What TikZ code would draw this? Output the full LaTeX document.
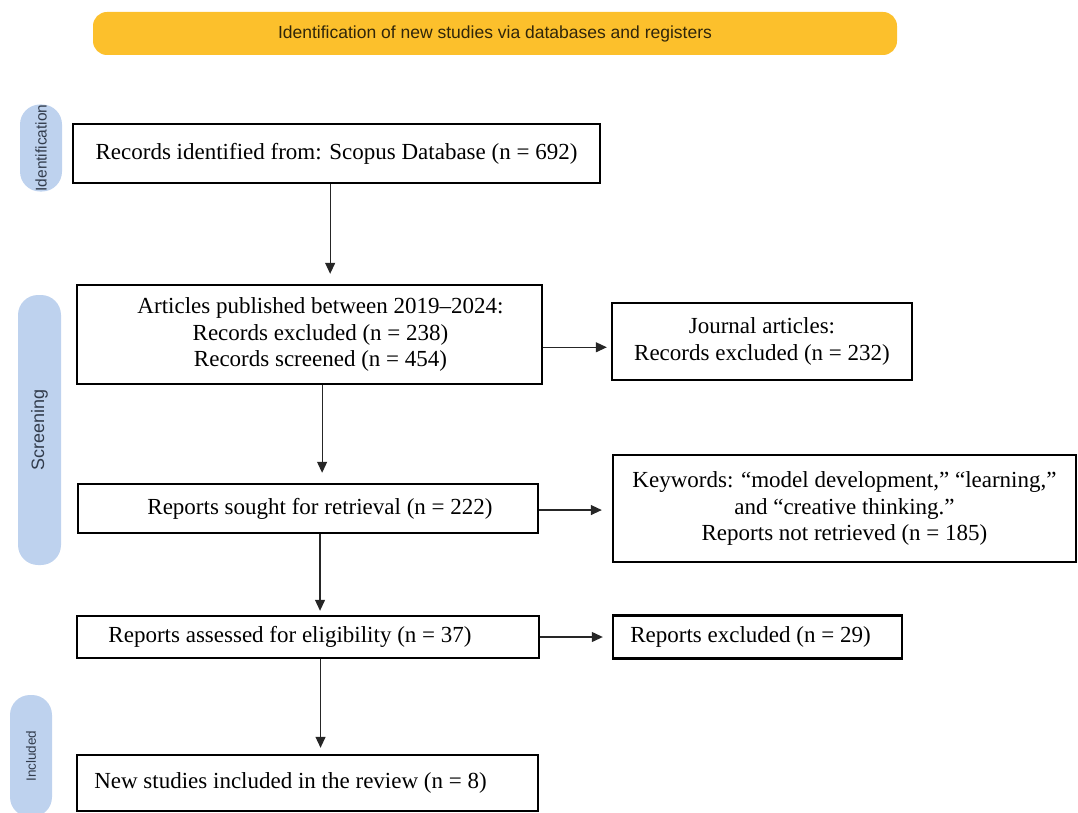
\documentclass[tikz,border=0pt]{standalone}
\usepackage{fontspec}
\setmainfont{Liberation Serif}
\setsansfont{Liberation Sans}
\usepackage{tikz}
\usetikzlibrary{calc,arrows.meta}
\definecolor{bannergold}{RGB}{252,192,44}
\definecolor{bannerink}{RGB}{48,38,10}
\definecolor{pillblue}{RGB}{190,210,238}
\definecolor{pillink}{RGB}{50,60,76}
\tikzset{
	recbox/.style 2 args = {draw=black, line width=2.4pt, inner sep=0pt,
		minimum width=#1, minimum height=#2, align=center,
		font=\fontsize{23}{26.5}\selectfont},
	stagepill/.style 2 args = {fill=pillblue, rounded corners=20pt, inner sep=0pt,
		minimum width=#1, minimum height=#2, text=pillink},
	flowarrow/.style = {-{Triangle[length=11pt,width=10pt]}, line width=1.2pt, draw=black!85}
}

\begin{document}
\begin{tikzpicture}[x=1pt,y=-1pt]
	\useasboundingbox (0,0) rectangle (1078,813);
	\node[fill=bannergold, rounded corners=14pt, minimum width=804pt, minimum height=43pt,
		text=bannerink, font=\sffamily\fontsize{17.5}{20}\selectfont] (banner) at (495,33.5)
		{Identification of new studies via databases and registers};
	\node[stagepill={42pt}{80pt}] (idpill) at (41,148)
		{\rotatebox{90}{\sffamily\fontsize{15.5}{18}\selectfont Identification}};
	\node[stagepill={43pt}{270pt}] (scrpill) at (39.5,430)
		{\rotatebox{90}{\sffamily\fontsize{18}{20}\selectfont Screening}};
	\node[stagepill={42pt}{122pt}] (incpill) at (31,756)
		{\rotatebox{90}{\sffamily\fontsize{13.5}{16}\selectfont Included}};

	\node[recbox={527pt}{59pt}] (found) at (336.5,153.5)
		{Records identified from: Scopus Database (n = 692)};
	\node[recbox={465pt}{99pt}] (period) at (309.5,334.5)
		{\hspace*{22pt}Articles published between 2019–2024:\\ \hspace*{22pt}Records excluded (n = 238)\\ \hspace*{22pt}Records screened (n = 454)};
	\node[recbox={300pt}{77pt}] (journal) at (762,341.5)
		{Journal articles:\\ Records excluded (n = 232)};
	\node[recbox={460pt}{49pt}] (sought) at (308,508.5)
		{\hspace*{24pt}Reports sought for retrieval (n = 222)};
	\node[recbox={463pt}{107pt}] (keywords) at (844.5,508.5)
		{Keywords: “model development,” “learning,”\\ and “creative thinking.”\\ Reports not retrieved (n = 185)};
	\node[recbox={462pt}{42pt}] (assessed) at (308,637)
		{\hspace*{-36pt}Reports assessed for eligibility (n = 37)};
	\node[recbox={289pt}{43pt}] (excluded) at (757.5,637)
		{\hspace*{-14pt}Reports excluded (n = 29)};
	\node[recbox={461pt}{56pt}] (included) at (307.5,783)
		{\hspace*{-34pt}New studies included in the review (n = 8)};

	\draw[flowarrow, shorten >=10pt] ($(found.south west)!.488!(found.south east)$) coordinate (v1) -- (v1 |- period.north);
	\draw[flowarrow, shorten >=10pt] ($(period.south west)!.527!(period.south east)$) coordinate (v2) -- (v2 |- sought.north);
	\draw[flowarrow, shorten >=4pt] ($(sought.south west)!.526!(sought.south east)$) coordinate (v3) -- (v3 |- assessed.north);
	\draw[flowarrow, shorten >=6pt] ($(assessed.south west)!.527!(assessed.south east)$) coordinate (v4) -- (v4 |- included.north);
	\draw[flowarrow, shorten >=4pt] ($(period.north east)!.626!(period.south east)$) coordinate (h1) -- (h1 -| journal.west);
	\draw[flowarrow, shorten >=10pt] ($(sought.north east)!.53!(sought.south east)$) coordinate (h2) -- (h2 -| keywords.west);
	\draw[flowarrow, shorten >=9pt] ($(assessed.north east)!.5!(assessed.south east)$) coordinate (h3) -- (h3 -| excluded.west);
\end{tikzpicture}
\end{document}
